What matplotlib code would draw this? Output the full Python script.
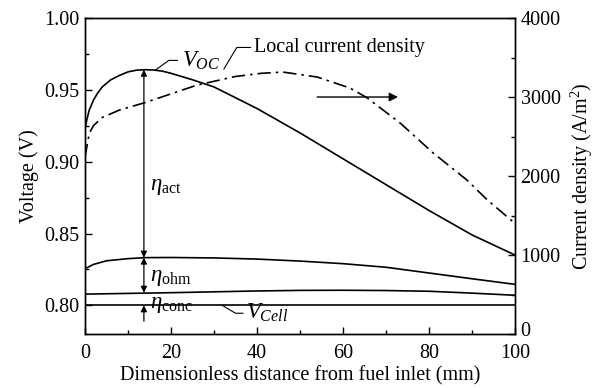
import matplotlib
matplotlib.use('Agg')
import matplotlib.pyplot as plt
from matplotlib.ticker import MultipleLocator, FuncFormatter

plt.rcParams['font.family'] = 'Liberation Serif'
plt.rcParams['mathtext.fontset'] = 'custom'
plt.rcParams['mathtext.rm'] = 'Liberation Serif'
plt.rcParams['mathtext.it'] = 'Liberation Serif:italic'
plt.rcParams['font.size'] = 14.5

# open-circuit voltage along the channel
x_oc = [0, 0.5, 1, 2, 3, 4, 6, 8, 10, 12, 14, 16, 18, 20, 25, 30, 40, 50, 60, 70, 80, 90, 100]
v_oc = [0.923, 0.930, 0.936, 0.943, 0.948, 0.952, 0.957, 0.960, 0.9625, 0.9637, 0.964, 0.9638,
        0.963, 0.9615, 0.957, 0.952, 0.937, 0.920, 0.902, 0.884, 0.866, 0.849, 0.835]

# voltage after activation loss
x_ohm = [0, 2, 5, 10, 14, 20, 30, 40, 50, 60, 70, 80, 90, 100]
v_ohm = [0.8255, 0.8285, 0.8310, 0.8325, 0.8332, 0.8333, 0.8330, 0.8322, 0.8308, 0.8290,
         0.8265, 0.8225, 0.8185, 0.8146]

# voltage after ohmic loss
x_conc = [0, 20, 40, 50, 60, 70, 80, 90, 100]
v_conc = [0.8078, 0.8088, 0.8100, 0.8104, 0.8105, 0.8103, 0.8098, 0.8085, 0.8070]

# cell voltage
x_cell = [0, 100]
v_cell = [0.80, 0.80]

# local current density (right axis)
x_j = [0, 1, 2, 4, 8, 14, 20, 26, 35, 41, 46, 54, 61.6, 65.6, 73.3, 81, 88.8, 93.5, 100]
j_loc = [2240, 2540, 2640, 2740, 2835, 2930, 3040, 3150, 3260, 3300, 3316, 3253, 3114, 2990,
         2670, 2290, 1950, 1700, 1400]

x_arrow = 13.7

fig = plt.figure(figsize=(6.01, 3.88), dpi=100)
ax = fig.add_axes([0.1414, 0.139, 0.7156, 0.8146])
ax2 = ax.twinx()

lw = 1.2
ax.plot(x_oc, v_oc, color='black', lw=lw)
ax.plot(x_ohm, v_ohm, color='black', lw=lw)
ax.plot(x_conc, v_conc, color='black', lw=lw)
ax.plot(x_cell, v_cell, color='black', lw=lw)
ax2.plot(x_j, j_loc, color='black', lw=lw, linestyle=(0, (8, 3, 1.5, 3)))

ax.set_xlim(0, 100)
ax.set_ylim(0.78, 1.00)
ax2.set_ylim(0, 4000)

ax.xaxis.set_major_locator(MultipleLocator(20))
ax.xaxis.set_minor_locator(MultipleLocator(10))
ax.yaxis.set_major_locator(MultipleLocator(0.05))
ax.yaxis.set_minor_locator(MultipleLocator(0.025))
ax2.yaxis.set_major_locator(MultipleLocator(1000))
ax2.yaxis.set_minor_locator(MultipleLocator(500))
ax.yaxis.set_major_formatter(plt.FormatStrFormatter('%.2f'))
# the zero label sits right next to the "100" x label, drawn separately below
ax2.yaxis.set_major_formatter(FuncFormatter(lambda v, p: '' if v == 0 else f'{v:.0f}'))

for a in (ax, ax2):
    a.tick_params(which='both', direction='in', width=1.0)
    a.tick_params(which='major', length=5)
    a.tick_params(which='minor', length=3)
    a.tick_params(axis='y', labelsize=14.5, pad=4)
    for s in a.spines.values():
        s.set_linewidth(1.0)
ax.tick_params(axis='x', labelsize=14.5, pad=7)

ax2.annotate('0', xy=(1, 0), xycoords=('axes fraction', 'data'), xytext=(4, 2),
             textcoords='offset points', ha='left', va='center', fontsize=14.5)

ax.set_xlabel('Dimensionless distance from fuel inlet (mm)', fontsize=14.5, labelpad=2)
ax.set_ylabel('Voltage (V)', fontsize=14.5, labelpad=4)
ax2.set_ylabel('Current density (A/m$^2$)', fontsize=14.5, labelpad=6)

# overpotential arrows
arw = dict(arrowstyle='<|-|>', color='black', lw=0.9, mutation_scale=9, shrinkA=0, shrinkB=0)
ax.annotate('', xy=(x_arrow, v_oc[10]), xytext=(x_arrow, v_ohm[4]), arrowprops=arw)
ax.annotate('', xy=(x_arrow, v_ohm[4]), xytext=(x_arrow, v_conc[1]), arrowprops=arw)
ax.annotate('', xy=(x_arrow, 0.80), xytext=(x_arrow, 0.789),
            arrowprops=dict(arrowstyle='-|>', color='black', lw=0.9, mutation_scale=9,
                            shrinkA=0, shrinkB=0))

ax.text(15.2, 0.883, r'$\eta_{\rm act}$', fontsize=16.5, va='center')
ax.text(15.2, 0.8195, r'$\eta_{\rm ohm}$', fontsize=16.5, va='center')
ax.text(15.2, 0.8008, r'$\eta_{\rm conc}$', fontsize=16.5, va='center')

# labels with leader lines
ax.plot([16.5, 19.5, 21.5], [0.964, 0.9705, 0.9705], color='black', lw=0.8)
ax.text(22.5, 0.9705, r'$V_{OC}$', fontsize=16.5, va='center')

ax.plot([32.3, 35.3, 38.5], [0.9645, 0.9795, 0.9795], color='black', lw=0.8)
ax.text(39.3, 0.9795, 'Local current density', fontsize=14.5, va='center')

ax.plot([31.9, 35, 36.7], [0.80, 0.7945, 0.7945], color='black', lw=0.8)
ax.text(37.5, 0.7945, r'$V_{Cell}$', fontsize=16.5, va='center')

ax2.annotate('', xy=(72.8, 3000), xytext=(54, 3000),
             arrowprops=dict(arrowstyle='-|>', color='black', lw=1.0, mutation_scale=13,
                             shrinkA=0, shrinkB=0))

fig.savefig('out.png', dpi=100)
